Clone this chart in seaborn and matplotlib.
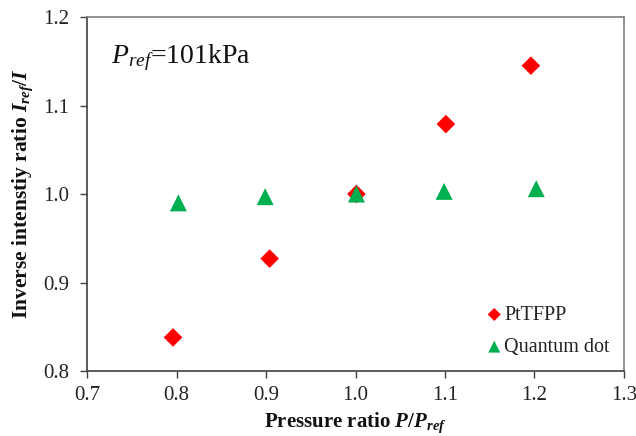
import matplotlib
matplotlib.use("Agg")
import matplotlib.pyplot as plt
import seaborn as sns
import pandas as pd

# data
pressure_pt = [0.796, 0.904, 1.001, 1.101, 1.196]
inv_pt = [0.838, 0.927, 1.000, 1.079, 1.145]
pressure_qd = [0.802, 0.899, 1.001, 1.099, 1.202]
inv_qd = [0.990, 0.997, 1.000, 1.003, 1.006]

df_pt = pd.DataFrame({"x": pressure_pt, "y": inv_pt})
df_qd = pd.DataFrame({"x": pressure_qd, "y": inv_qd})

sns.set_theme(style="white")
plt.rcParams.update({
    "font.family": ["Liberation Serif", "DejaVu Serif"],
    "mathtext.fontset": "custom",
    "mathtext.rm": "Liberation Serif",
    "mathtext.it": "Liberation Serif:italic",
    "mathtext.bf": "Liberation Serif:bold",
    "mathtext.bfit": "Liberation Serif:italic:bold",
})

fig, ax = plt.subplots(figsize=(6.36, 4.36), dpi=100)
fig.subplots_adjust(left=0.137, right=0.981, top=0.961, bottom=0.149)

sns.scatterplot(data=df_pt, x="x", y="y", marker="D", color="#ff0000", s=90,
                edgecolor="none", label="PtTFPP", ax=ax, zorder=3)
sns.scatterplot(data=df_qd, x="x", y="y", marker="^", color="#00b050", s=150,
                edgecolor="none", label="Quantum dot", ax=ax, zorder=4)

ax.set_xlim(0.7, 1.3)
ax.set_ylim(0.8, 1.2)
ax.set_xticks([0.7, 0.8, 0.9, 1.0, 1.1, 1.2, 1.3])
ax.set_yticks([0.8, 0.9, 1.0, 1.1, 1.2])
ax.set_xticklabels(["0.7", "0.8", "0.9", "1.0", "1.1", "1.2", "1.3"])
ax.set_yticklabels(["0.8", "0.9", "1.0", "1.1", "1.2"])
ax.tick_params(axis="both", direction="out", length=5, width=1, colors="#404040",
               labelcolor="#222222", labelsize=15, bottom=True, left=True)
ax.tick_params(axis="x", pad=6)
ax.tick_params(axis="y", pad=8)

for side in ["left", "bottom"]:
    ax.spines[side].set_color("#404040")
    ax.spines[side].set_linewidth(1.2)
for side in ["top", "right"]:
    ax.spines[side].set_color("#808080")
    ax.spines[side].set_linewidth(1.2)

ax.set_xlabel(r"Pressure ratio $\mathbfit{P}$/$\mathbfit{P}_{\mathbfit{ref}}$",
              fontsize=15, fontweight="bold", color="#111111", labelpad=4)
ax.set_ylabel(r"Inverse intenstiy ratio $\mathbfit{I}_{\mathbfit{ref}}$/$\mathbfit{I}$",
              fontsize=15.5, fontweight="bold", color="#111111", labelpad=6)

ax.text(0.045, 0.885, r"$\mathit{P}_{\mathit{ref}}$=101kPa", transform=ax.transAxes,
        fontsize=20, color="#111111", ha="left", va="center")

leg = ax.legend(loc="lower right", bbox_to_anchor=(1.0, 0.0), frameon=False,
                fontsize=14.5, handlelength=1.0, handletextpad=0.0, labelspacing=0.65,
                markerscale=0.7, borderaxespad=0.3)
for t in leg.get_texts():
    t.set_color("#222222")

fig.savefig("out.png", dpi=100)
